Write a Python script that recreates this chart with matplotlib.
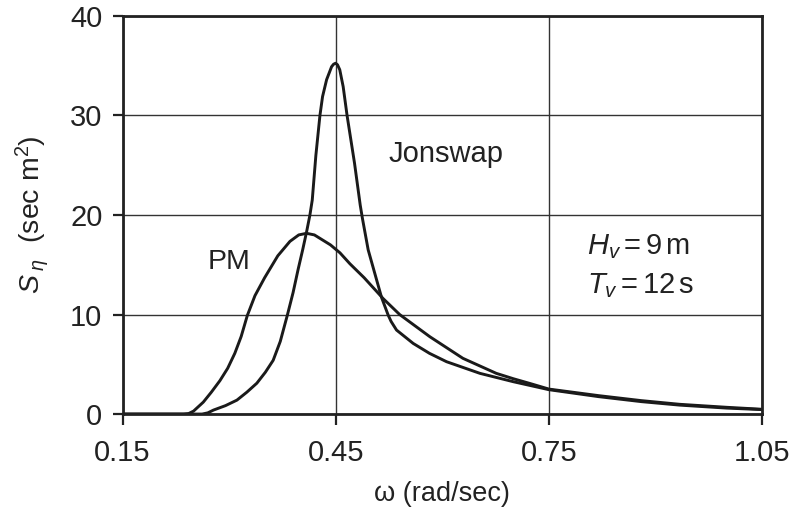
import matplotlib
matplotlib.use('Agg')
import matplotlib.pyplot as plt

plt.rcParams['font.family'] = ['Liberation Sans', 'DejaVu Sans']
plt.rcParams['mathtext.fontset'] = 'custom'
plt.rcParams['mathtext.rm'] = 'Liberation Sans'
plt.rcParams['mathtext.it'] = 'Liberation Sans:italic'

# PM spectrum
pm_w = [0.15, 0.236, 0.243, 0.250, 0.2637, 0.275, 0.287, 0.298, 0.308, 0.317, 0.3256,
        0.3364, 0.350, 0.3685, 0.3856, 0.398, 0.409, 0.420, 0.4426, 0.456, 0.470,
        0.490, 0.5168, 0.540, 0.5825, 0.629, 0.676, 0.700, 0.723, 0.750, 0.820,
        0.880, 0.934, 1.000, 1.050]
pm_s = [0.0, 0.0, 0.05, 0.3, 1.2, 2.2, 3.35, 4.6, 6.1, 7.8, 9.9,
        11.9, 13.7, 15.9, 17.35, 18.0, 18.16, 18.0, 17.0, 16.2, 15.1,
        13.7, 11.6, 10.0, 7.77, 5.6, 4.09, 3.55, 3.08, 2.51, 1.85,
        1.35, 0.98, 0.68, 0.48]

# Jonswap spectrum
js_w = [0.15, 0.262, 0.270, 0.278, 0.295, 0.311, 0.325, 0.339, 0.351, 0.362, 0.372,
        0.382, 0.390, 0.397, 0.4035, 0.409, 0.4137, 0.417, 0.4221, 0.4278, 0.4315,
        0.4372, 0.4442, 0.447, 0.4498, 0.4525, 0.4557, 0.4605, 0.466, 0.4765,
        0.4845, 0.4875, 0.4957, 0.5075, 0.5146, 0.5238, 0.528, 0.5356, 0.559,
        0.582, 0.606, 0.653, 0.700, 0.750, 0.820, 0.880, 0.934, 1.000, 1.050]
js_s = [0.0, 0.0, 0.12, 0.4, 0.85, 1.4, 2.2, 3.1, 4.2, 5.4, 7.3,
        9.95, 12.2, 14.5, 16.5, 18.3, 20.0, 21.5, 26.0, 30.0, 31.9,
        33.6, 34.9, 35.15, 35.25, 35.1, 34.6, 32.9, 30.0, 25.2,
        21.0, 19.7, 16.5, 13.5, 11.7, 9.95, 9.3, 8.44, 7.1,
        6.1, 5.26, 4.09, 3.25, 2.45, 1.75, 1.25, 0.9, 0.6, 0.45]

x_ticks = [0.15, 0.45, 0.75, 1.05]
x_labels = ['0.15', '0.45', '0.75', '1.05']
y_ticks = [0, 10, 20, 30, 40]

ink = '#222222'
fs = 21

fig = plt.figure(figsize=(7.93, 5.15), dpi=100)
ax = fig.add_axes([0.1545, 0.196, 0.8065, 0.773])

ax.plot(pm_w, pm_s, color='#1a1a1a', lw=2.1, solid_joinstyle='round')
ax.plot(js_w, js_s, color='#1a1a1a', lw=2.1, solid_joinstyle='round')

ax.set_xlim(0.15, 1.05)
ax.set_ylim(0, 40)
ax.set_xticks(x_ticks)
ax.set_xticklabels(x_labels)
ax.set_yticks(y_ticks)
ax.grid(True, color='#333333', lw=1.0)
ax.set_axisbelow(True)
for sp in ax.spines.values():
    sp.set_linewidth(2.0)
    sp.set_color(ink)
ax.tick_params(direction='out', width=1.6, labelsize=fs, colors=ink)
ax.tick_params(axis='x', length=8, pad=10)
ax.tick_params(axis='y', length=7.5, pad=7)

ax.set_xlabel('ω (rad/sec)', fontsize=19.5, color=ink, labelpad=10)
ax.set_ylabel(r'$S_{\;\eta}$  (sec m$^2$)', fontsize=20.5, color=ink, labelpad=14)

ax.text(0.2998, 15.3, 'PM', fontsize=20.5, ha='center', va='center', color=ink)
ax.text(0.605, 26.1, 'Jonswap', fontsize=21, ha='center', va='center', color=ink)
ax.text(0.8033, 16.8, r'$H_v=9\,\mathrm{m}$', fontsize=21, ha='left', va='center',
        color=ink)
ax.text(0.8033, 12.9, r'$T_v=12\,\mathrm{s}$', fontsize=21, ha='left', va='center',
        color=ink)

fig.savefig('out.png', dpi=100)
